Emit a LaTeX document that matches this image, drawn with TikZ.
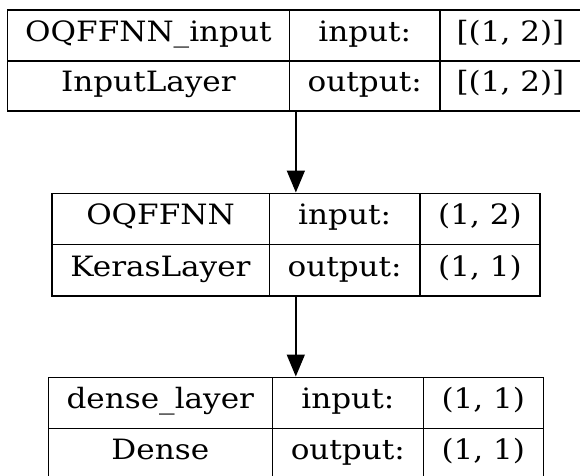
\documentclass[tikz,border=0pt]{standalone}
\usepackage{fontspec}
\setmainfont{DejaVu Serif}[FakeStretch=1.11]
\usetikzlibrary{arrows.meta}

% one table cell: name, left, top, right, bottom (pixel units, y downwards), text
\newcommand\mkcell[6]{%
  \node[cellbox,
        minimum width={(#4-#2)*1pt},
        minimum height={(#5-#3)*1pt}]
    (#1) at ({(#2+#4)/2},{(#3+#5)/2}) {#6};}
% invisible frame round a whole layer table, used as a connector end
\newcommand\mkframe[5]{%
  \node[framebox,
        minimum width={(#4-#2)*1pt},
        minimum height={(#5-#3)*1pt}]
    (#1) at ({(#2+#4)/2},{(#3+#5)/2}) {};}

\tikzset{
  cellbox/.style={draw=black, line width=1.6pt, inner sep=0pt,
                  text height=20pt, text depth=8pt,
                  font=\fontsize{28}{33}\selectfont},
  framebox/.style={inner sep=0pt, outer sep=0pt},
  flow/.style={draw=black, line width=1.6pt,
               -{Triangle[length=22pt,width=18pt]}, shorten >=0.8pt},
}

\begin{document}
\begin{tikzpicture}[x=1pt,y=-1pt]
  \useasboundingbox (0,0) rectangle (580,475);
  \clip (0,0) rectangle (580,475);
  \fill[white] (0,0) rectangle (580,475);

  % input layer
  \mkframe{L1}{7.3}{10}{581}{110.7}
  \mkcell{L1name}{7.3}{10}{289.5}{60.7}{OQFFNN\_input}
  \mkcell{L1type}{7.3}{60.7}{289.5}{110.7}{InputLayer}
  \mkcell{L1in}{289.5}{10}{440}{60.7}{input:}
  \mkcell{L1out}{289.5}{60.7}{440}{110.7}{output:}
  \mkcell{L1ins}{440}{10}{581}{60.7}{[(1, 2)]}
  \mkcell{L1outs}{440}{60.7}{581}{110.7}{[(1, 2)]}

  % Keras layer
  \mkframe{L2}{51.7}{193.3}{540}{296}
  \mkcell{L2name}{51.7}{193.3}{269.3}{244.3}{OQFFNN}
  \mkcell{L2type}{51.7}{244.3}{269.3}{296}{KerasLayer}
  \mkcell{L2in}{269.3}{193.3}{420}{244.3}{input:}
  \mkcell{L2out}{269.3}{244.3}{420}{296}{output:}
  \mkcell{L2ins}{420}{193.3}{540}{244.3}{(1, 2)}
  \mkcell{L2outs}{420}{244.3}{540}{296}{(1, 1)}

  % dense layer
  \mkframe{L3}{48.3}{377.3}{543.3}{479.3}
  \mkcell{L3name}{48.3}{377.3}{272.3}{428.3}{dense\_layer}
  \mkcell{L3type}{48.3}{428.3}{272.3}{479.3}{Dense}
  \mkcell{L3in}{272.3}{377.3}{423.3}{428.3}{input:}
  \mkcell{L3out}{272.3}{428.3}{423.3}{479.3}{output:}
  \mkcell{L3ins}{423.3}{377.3}{543.3}{428.3}{(1, 1)}
  \mkcell{L3outs}{423.3}{428.3}{543.3}{479.3}{(1, 1)}

  % connectors
  \draw[flow] (L1.south -| L2.north) -- (L2.north);
  \draw[flow] (L2.south -| L3.north) -- (L3.north);
\end{tikzpicture}
\end{document}
